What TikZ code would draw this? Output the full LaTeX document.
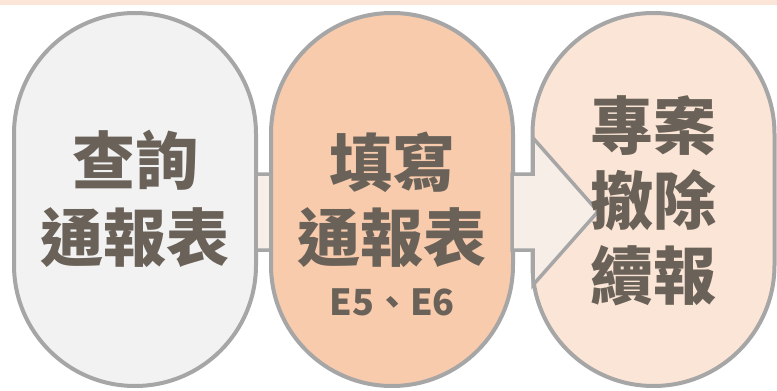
\documentclass[tikz,border=0pt]{standalone}
\usepackage{fontspec}
\newfontfamily\tc{Noto Sans CJK TC}
\definecolor{bordergray}{HTML}{A6A6A6}
\definecolor{fillA}{HTML}{F2F2F2}
\definecolor{fillB}{HTML}{F8CBAD}
\definecolor{fillC}{HTML}{FBE5D6}
\definecolor{arrowfill}{HTML}{F8EEE8}
\definecolor{txt}{RGB}{106,98,88}
\tikzset{
  pill/.style={draw=bordergray, line width=4pt, rounded corners=120.9pt,
    minimum width=242pt, minimum height=373pt, inner sep=0pt},
  bigtxt/.style={anchor=base, text=txt, inner sep=0pt,
    font=\tc\bfseries\fontsize{63pt}{75pt}\selectfont},
  smalltxt/.style={anchor=base, text=txt, inner sep=0pt,
    font=\tc\bfseries\fontsize{36pt}{40pt}\selectfont},
  arrowshape/.style={draw=bordergray, fill=arrowfill, line width=3.5pt, line join=miter}
}
\begin{document}
\begin{tikzpicture}[x=1pt,y=-1pt]
\useasboundingbox (0,0) rectangle (777,391);
\fill[fillC] (0,0) rectangle (777,4.6);
% shape 1
\node[pill, fill=fillA] (s1) at (135,199.5) {};
% arrow 1 (head hidden under shape 2)
\draw[arrowshape] (256,174) -- (290,174) -- (290,138) -- (355,211.5) -- (290,285) -- (290,250) -- (256,250) -- cycle;
% shape 2
\node[pill, fill=fillB] (s2) at (392,199.5) {};
% shape 3
\node[pill, fill=fillC] (s3) at (653.5,199.5) {};
% arrow 2
\draw[arrowshape] (512,174) -- (533,174) -- (533,138) -- (598,211.5) -- (533,285) -- (533,250) -- (512,250) -- cycle;
% texts
\node[bigtxt] (t1a) at (135,184.5) {查詢};
\node[bigtxt] (t1b) at (135,261.5) {通報表};
\node[bigtxt] (t2a) at (392,186) {填寫};
\node[bigtxt] (t2b) at (392,261.5) {通報表};
\node[smalltxt] (t2c) at (392,315) {E5、E6};
\node[bigtxt] (t3a) at (653.5,149) {專案};
\node[bigtxt] (t3b) at (653.5,224) {撤除};
\node[bigtxt] (t3c) at (653.5,299) {續報};
\end{tikzpicture}
\end{document}
